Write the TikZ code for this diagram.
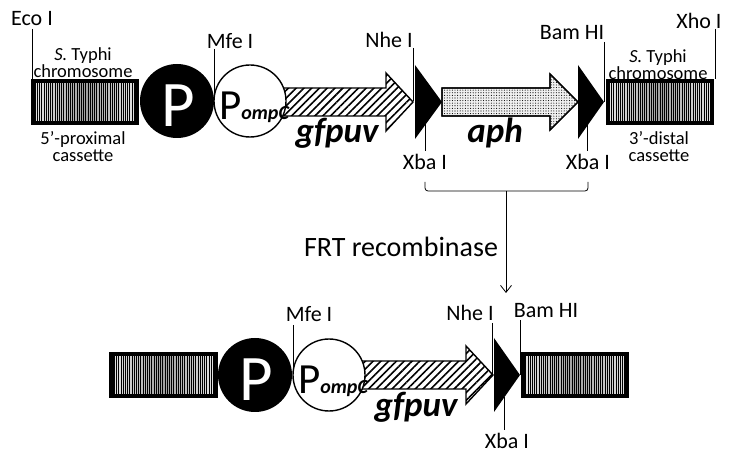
\documentclass[tikz,border=0pt]{standalone}
\usepackage{fontspec}
\setmainfont{Carlito}
\usetikzlibrary{patterns.meta,arrows.meta}
\tikzset{
  lbl/.style={font=\fontsize{22}{24}\selectfont, inner sep=0pt},
  small/.style={font=\fontsize{18.5}{20}\selectfont, inner sep=0pt, align=center},
  gene/.style={font=\fontsize{35}{37}\selectfont\bfseries\itshape, inner sep=0pt, anchor=base},
  site/.style={line width=0.9pt},
  chrom/.style={draw, line width=4.5pt, minimum width=104pt, minimum height=42pt, inner sep=0pt,
    path picture={
      \shade[left color=gray!20, right color=gray!20, middle color=gray!75]
        (path picture bounding box.south west) rectangle (path picture bounding box.north east);
      \fill[pattern={Lines[angle=90,distance=2.2pt,line width=0.8pt]}]
        (path picture bounding box.south west) rectangle (path picture bounding box.north east);}},
  prom/.style={circle, fill=black, minimum size=74pt, inner sep=0pt},
  ompc/.style={circle, draw, fill=white, line width=1.4pt, minimum size=72pt, inner sep=0pt},
  gfp/.style={draw, line width=1.4pt, fill=white},
  hatch/.style={pattern={Lines[angle=45,distance=5.5pt,line width=1.6pt]}},
  aphst/.style={draw, line width=1.4pt, fill=gray!12},
  frt/.style={fill=black},
  bigP/.style={text=white, font=\fontsize{65}{65}\selectfont, inner sep=0pt, anchor=base},
  ompP/.style={inner sep=0pt, anchor=base}
}
\begin{document}
\begin{tikzpicture}[x=1pt,y=-1pt]
\useasboundingbox (0,0) rectangle (737,462);
% ================= TOP ROW =================
\draw[site] (32,29) -- (32,79);
\draw[site] (214,49) -- (214,101);
\draw[site] (413,48) -- (413,101);
\draw[site] (425,119) -- (425,151);
\draw[site] (604,42) -- (604,102);
\draw[site] (587,119) -- (587,151);
\draw[site] (715,29) -- (715,79);
\node[chrom] (chL) at (85,102) {};
\node[chrom] (chR) at (660,102) {};
\filldraw[gfp] (280,88) -- (386,88) -- (386,73) -- (413,102) -- (386,131) -- (386,116) -- (280,116) -- cycle;
\path[hatch] (280,88) -- (386,88) -- (386,73) -- (413,102) -- (386,131) -- (386,116) -- (280,116) -- cycle;
\node[prom] (p1) at (177,101) {};
\node[ompc] (pc1) at (250,101) {};
\node[bigP] (p1t) at (178,127) {P};
\node[ompP] (pc1t) at (254,120) {{\fontsize{43}{43}\selectfont P}{\fontsize{20}{20}\selectfont\bfseries\itshape ompC}};
\fill[frt] (415,65) -- (442,102) -- (415,139) -- cycle;
\fill[frt] (578,65) -- (604,102) -- (578,139) -- cycle;
\filldraw[aphst] (442,88) -- (550,88) -- (550,74) -- (578,102) -- (550,130) -- (550,116) -- (442,116) -- cycle;
\path[pattern={Dots[distance=2.6pt,radius=0.55pt]}] (442,88) -- (550,88) -- (550,74) -- (578,102) -- (550,130) -- (550,116) -- (442,116) -- cycle;
\draw[line width=1.4pt] (442,88) -- (550,88) -- (550,74) -- (578,102) -- (550,130) -- (550,116) -- (442,116) -- cycle;
\node[lbl] (eco) at (32,19) {Eco I};
\node[lbl] (mfe) at (230,41) {Mfe I};
\node[lbl] (nhe) at (389,40) {Nhe I};
\node[lbl] (bam) at (572,33) {Bam HI};
\node[lbl] (xho) at (699,21) {Xho I};
\node[lbl] (xba1) at (425,162) {Xba I};
\node[lbl] (xba2) at (588,162) {Xba I};
\node[small] (s1) at (83,63) {\textit{S.} Typhi\\[-3pt]chromosome};
\node[small] (c1) at (83,147) {5’-proximal\\[-3pt]cassette};
\node[small] (s2) at (658,65) {\textit{S.} Typhi\\[-3pt]chromosome};
\node[small] (c2) at (659,147) {3’-distal\\[-3pt]cassette};
\node[gene] (g1) at (337,143) {gfpuv};
\node[gene] (a1) at (495,143) {aph};
% ================= BRACKET & ARROW =================
\draw[line width=0.8pt, rounded corners=3pt] (425,182) -- (425,191) -- (588,191) -- (588,182);
\coordinate (brc) at (506,191);
\coordinate (tgt) at (506,293);
\draw[line width=0.8pt, -{Straight Barb[length=7pt,width=11pt]}] (brc) -- (tgt);
\node[font=\fontsize{28}{30}\selectfont, inner sep=0pt] (rec) at (401,247) {FRT recombinase};
% ================= BOTTOM ROW =================
\draw[site] (293,325) -- (293,375);
\draw[site] (492,323) -- (492,375);
\draw[site] (504,397) -- (504,430);
\draw[site] (520,320) -- (520,375);
\node[chrom] (chL2) at (163.5,375) {};
\node[chrom] (chR2) at (575,375) {};
\filldraw[gfp] (360,361) -- (466,361) -- (466,346) -- (493,375) -- (466,404) -- (466,389) -- (360,389) -- cycle;
\path[hatch] (360,361) -- (466,361) -- (466,346) -- (493,375) -- (466,404) -- (466,389) -- (360,389) -- cycle;
\node[prom] (p2) at (255,375) {};
\node[ompc] (pc2) at (329,375) {};
\node[bigP] (p2t) at (256,401) {P};
\node[ompP] (pc2t) at (333,394) {{\fontsize{43}{43}\selectfont P}{\fontsize{20}{20}\selectfont\bfseries\itshape ompC}};
\fill[frt] (494,338) -- (520,375) -- (494,412) -- cycle;
\node[lbl] (mfe2) at (309,314) {Mfe I};
\node[lbl] (nhe2) at (470,313) {Nhe I};
\node[lbl] (bam2) at (546,311) {Bam HI};
\node[lbl] (xba3) at (507,441) {Xba I};
\node[gene] (g2) at (416,417) {gfpuv};
\end{tikzpicture}
\end{document}
